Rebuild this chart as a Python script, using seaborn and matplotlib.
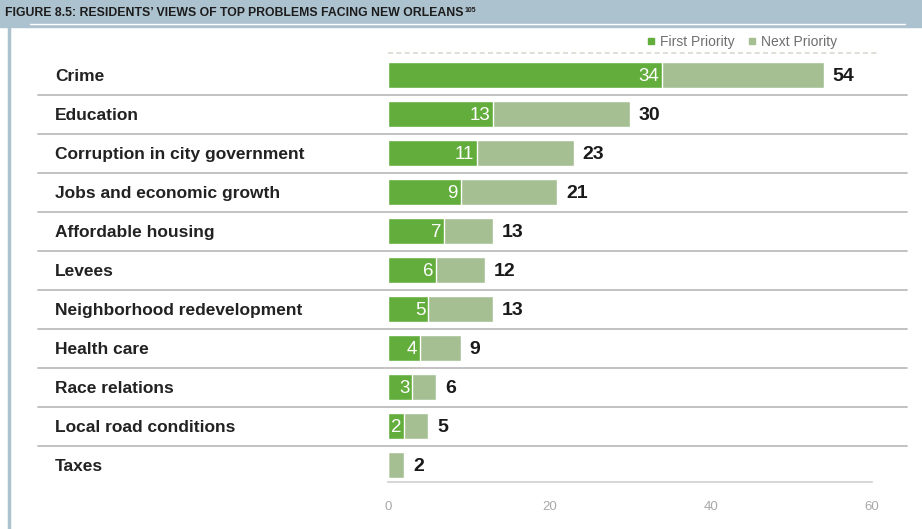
import matplotlib
matplotlib.use("Agg")
import matplotlib.pyplot as plt
import matplotlib.transforms as mtransforms
from matplotlib.lines import Line2D
import seaborn as sns
import pandas as pd

# ---- data ----
problems = ["Crime", "Education", "Corruption in city government",
            "Jobs and economic growth", "Affordable housing", "Levees",
            "Neighborhood redevelopment", "Health care", "Race relations",
            "Local road conditions", "Taxes"]
first_priority = [34, 13, 11, 9, 7, 6, 5, 4, 3, 2, 0]
total_priority = [54, 30, 23, 21, 13, 12, 13, 9, 6, 5, 2]
x_ticks = [0, 20, 40, 60]
title = "FIGURE 8.5: RESIDENTS\u2019 VIEWS OF TOP PROBLEMS FACING NEW ORLEANS"
title_sup = "105"
legend_labels = ["First Priority", "Next Priority"]

df = pd.DataFrame({"problem": problems, "first": first_priority, "total": total_priority})

C_FIRST = "#63ad3c"
C_NEXT = "#a5bf93"
C_BAND = "#adc2cf"

sns.set_theme(style="white")
plt.rcParams["font.family"] = ["Liberation Sans", "DejaVu Sans"]

W, H = 922, 529
fig = plt.figure(figsize=(W / 100, H / 100), dpi=100)
fig.patch.set_facecolor("white")

# header band and left border
fig.add_artist(plt.Rectangle((0, 1 - 27 / H), 1, 27 / H, transform=fig.transFigure,
                             color=C_BAND, zorder=0))
fig.add_artist(Line2D([30 / W, 905 / W], [1 - 24 / H, 1 - 24 / H], transform=fig.transFigure,
                      color="white", lw=1))
fig.add_artist(Line2D([9 / W, 9 / W], [0, 1 - 27 / H], transform=fig.transFigure,
                      color=C_BAND, lw=2.5))
t = fig.text(5 / W, 1 - 13 / H, title, ha="left", va="center", fontsize=8.8,
             fontweight="bold", color="#1c1c1c")
fig.canvas.draw()
bb = t.get_window_extent()
fig.text(bb.x1 / W + 1 / W, 1 - 10 / H, title_sup, ha="left", va="center", fontsize=5,
         fontweight="bold", color="#1c1c1c")

# main axes: x 0 at px 388, 60 at px 872; y from px 53 to 482
left = 388 / W
width = (872 - 388) / W
bottom = 1 - 482 / H
height = (482 - 53) / H
ax = fig.add_axes([left, bottom, width, height])
ax.set_facecolor("none")

sns.barplot(data=df, y="problem", x="total", color=C_NEXT, width=0.67,
            saturation=1, ax=ax, orient="h", zorder=2)
sns.barplot(data=df, y="problem", x="first", color=C_FIRST, width=0.67,
            saturation=1, ax=ax, orient="h", zorder=3)

ax.set_xlim(0, 60)
ax.set_ylim(10.44, -0.56)
ax.set_xlabel("")
ax.set_ylabel("")
ax.set_yticks([])
ax.set_xticks(x_ticks)
ax.set_xticklabels([str(v) for v in x_ticks])
ax.tick_params(axis="x", colors="#c4c4c4", labelcolor="#a8a8a8", labelsize=9.5,
               direction="inout", length=6, width=1, pad=11)
for s in ["left", "right", "top"]:
    ax.spines[s].set_visible(False)
ax.spines["bottom"].set_color("#cfcfcf")
ax.spines["bottom"].set_linewidth(1.2)

# top dotted line
ax.axhline(-0.56, xmin=0, xmax=1.015, color="#d9d9cf", lw=1.2, ls=(0, (3, 2)), clip_on=False)

# row separators
for i in range(len(problems) - 1):
    ax.axhline(i + 0.52, xmin=(38 - 388) / 484, xmax=(907 - 388) / 484,
               color="#bdbdbd", lw=1.3, clip_on=False, zorder=1)

# category labels
trans = mtransforms.blended_transform_factory(ax.transAxes, ax.transData)
for i, name in enumerate(problems):
    ax.text((55 - 388) / 484, i + 0.03, name, transform=trans, ha="left", va="center",
            fontsize=12.5, fontweight="bold", color="#222222")

# value labels
for i, (f, tot) in enumerate(zip(first_priority, total_priority)):
    if f > 0:
        ax.text(f - 0.35, i + 0.03, str(f), ha="right", va="center", fontsize=13.5,
                color="white", zorder=4)
    ax.text(tot + 1.1, i + 0.03, str(tot), ha="left", va="center", fontsize=14,
            fontweight="bold", color="#1a1a1a", zorder=4)

# legend
handles = [Line2D([], [], marker="s", ls="none", color=C_FIRST, markersize=5),
           Line2D([], [], marker="s", ls="none", color=C_NEXT, markersize=5)]
leg = fig.legend(handles, legend_labels, loc="center right",
                 bbox_to_anchor=(837 / W, 1 - 42 / H), ncol=2, frameon=False,
                 fontsize=10, handlelength=0.7, handletextpad=0.3, columnspacing=0.9,
                 borderaxespad=0, borderpad=0)
for txt in leg.get_texts():
    txt.set_color("#6f6f6f")

fig.savefig("out.png", dpi=100, facecolor="white")
